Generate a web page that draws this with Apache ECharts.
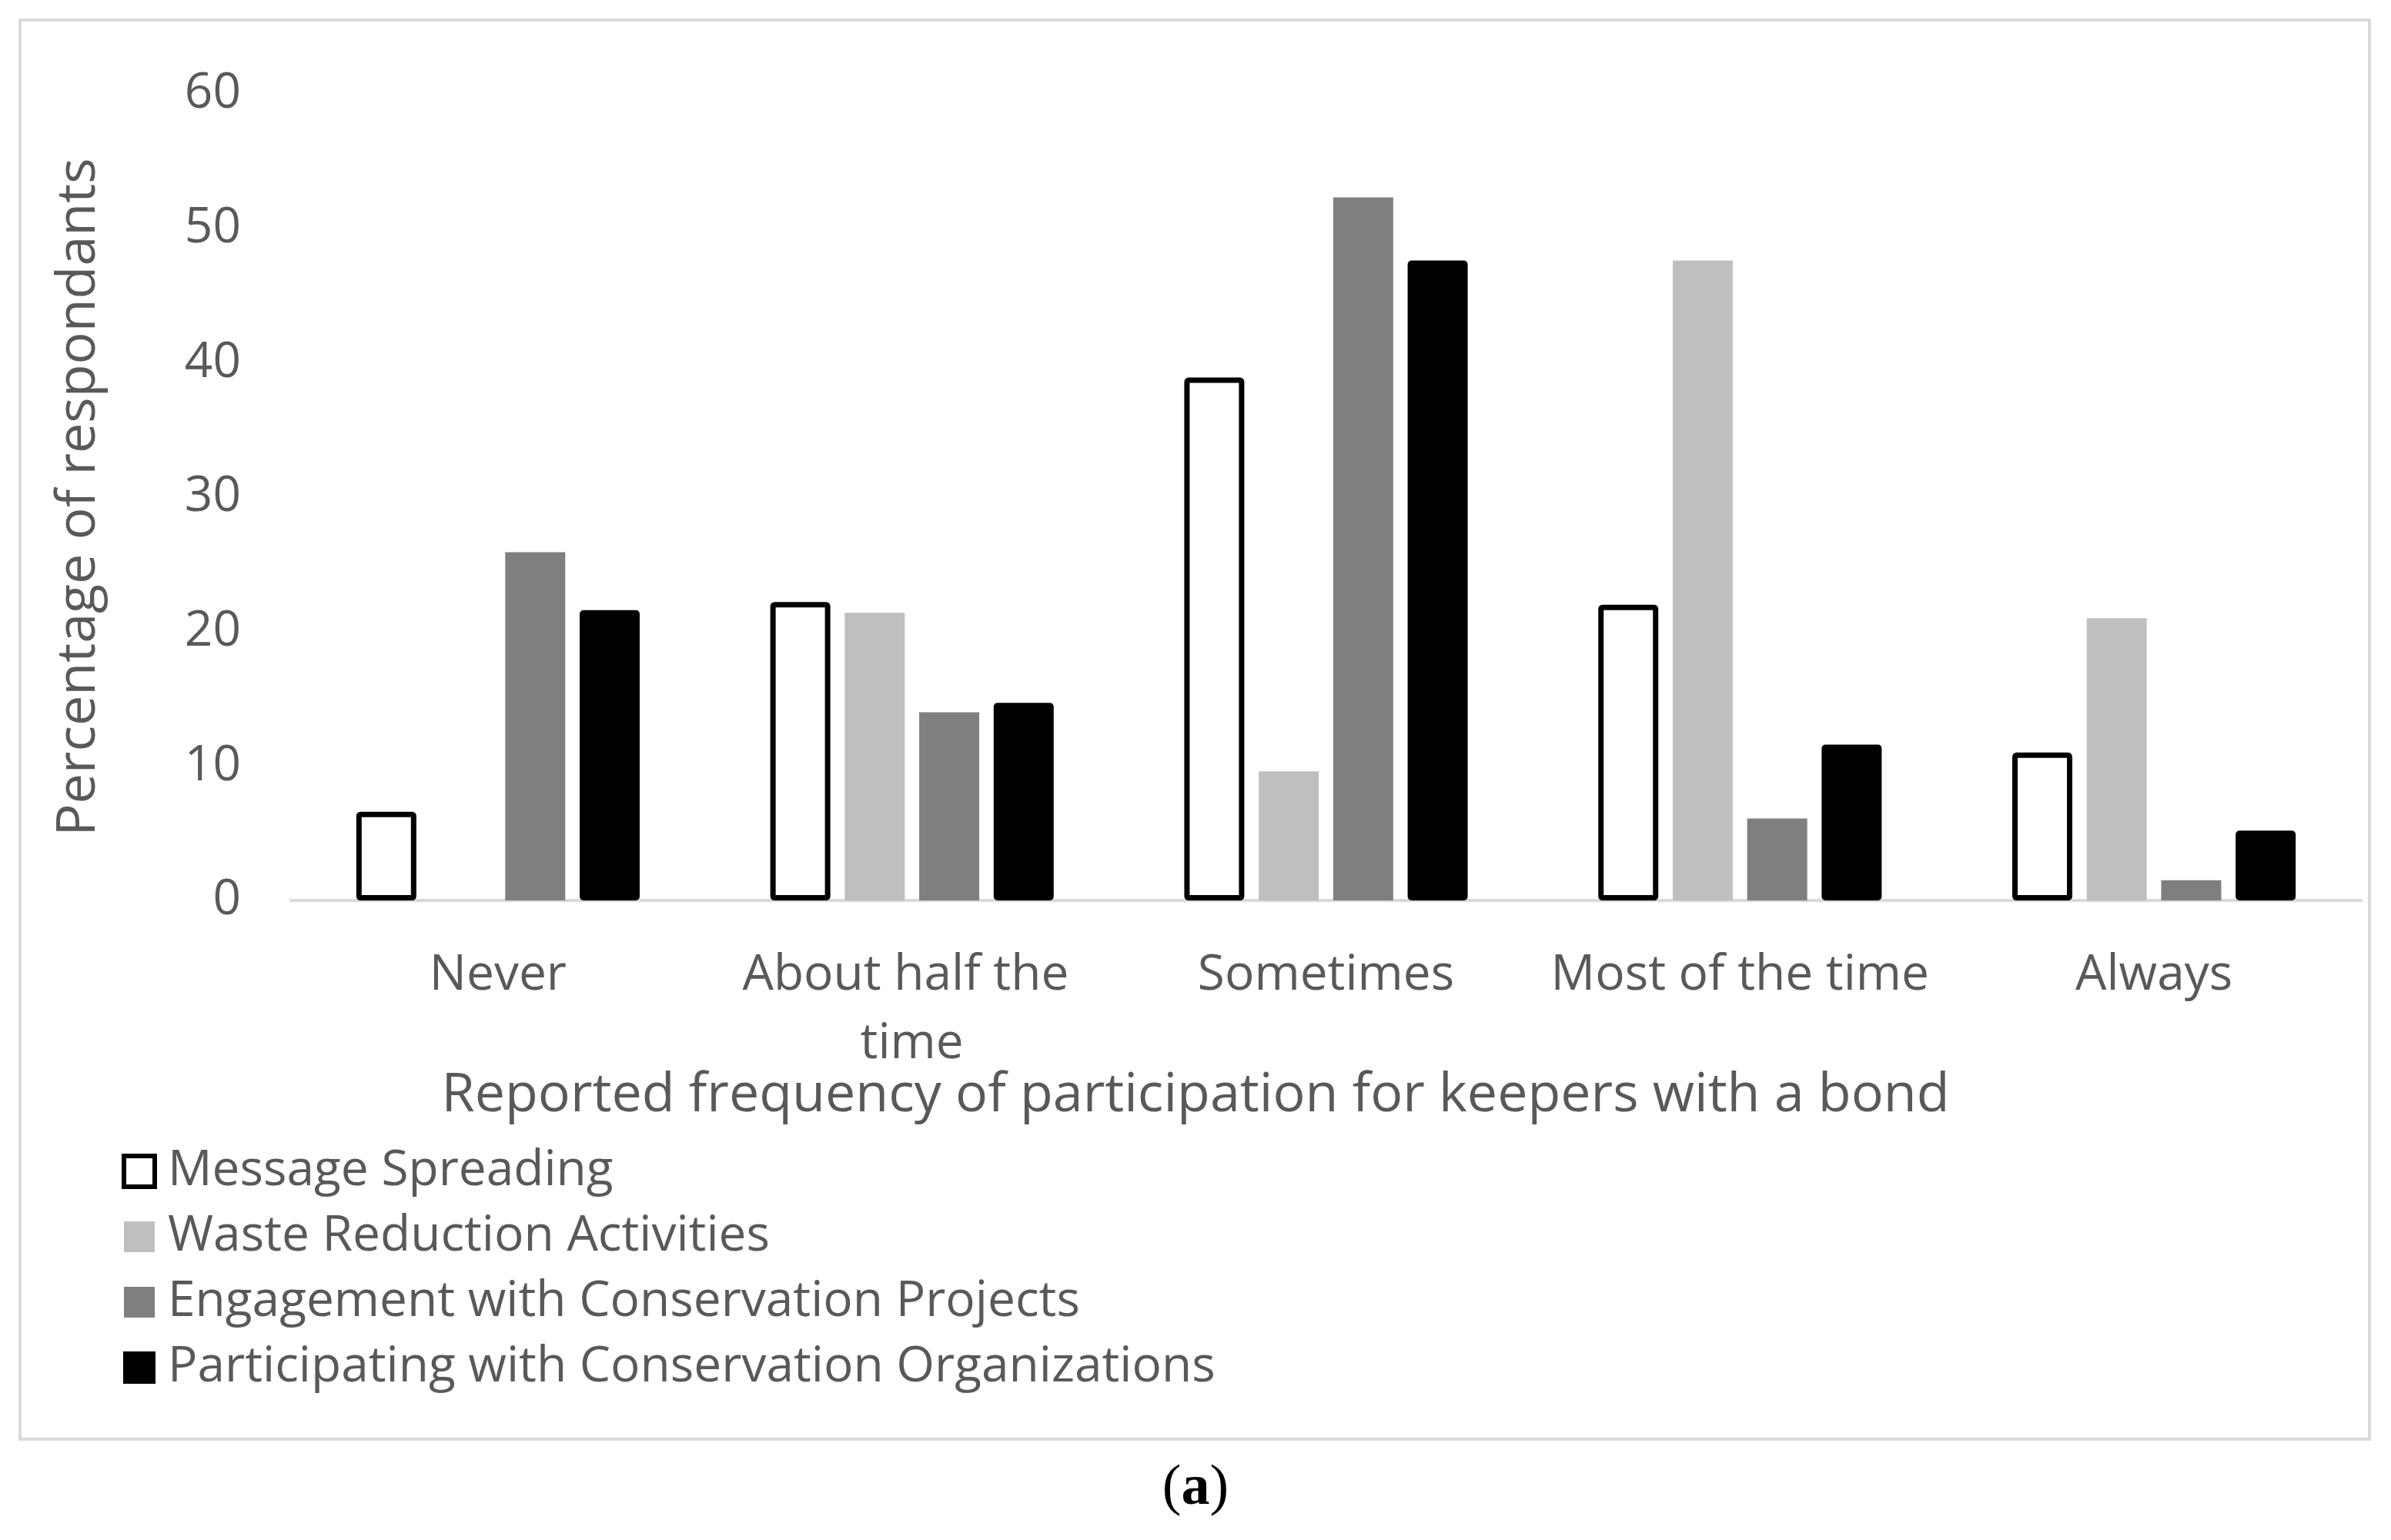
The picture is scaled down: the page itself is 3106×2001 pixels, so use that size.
<!DOCTYPE html>
<html>
<head>
<meta charset="utf-8">
<script src="https://cdn.jsdelivr.net/npm/echarts@6/dist/echarts.min.js"></script>
<style>
html,body{margin:0;padding:0;background:#fff;}
#chart{width:3106px;height:2001px;}
</style>
</head>
<body>
<div id="chart"></div>
<script>
const categories = ['Never', 'About half the time', 'Sometimes', 'Most of the time', 'Always'];
const seriesNames = ['Message Spreading', 'Waste Reduction Activities', 'Engagement with Conservation Projects', 'Participating with Conservation Organizations'];
const messageSpreading = [6.6, 22.2, 38.9, 22.0, 11.0];
const wasteReduction = [0, 21.4, 9.6, 47.6, 21.0];
const engagementProjects = [25.9, 14.0, 52.3, 6.1, 1.5];
const participatingOrgs = [21.6, 14.7, 47.6, 11.6, 5.2];
const yTicks = {min: 0, max: 60, interval: 10};

const FONT = '"Open Sans", "Noto Sans", sans-serif';
const TXT = '#595959';

const chart = echarts.init(document.getElementById('chart'), null, {renderer: 'canvas'});
const barW = 78;
const gap = '24%';
const option = {
  backgroundColor: '#ffffff',
  animation: false,
  textStyle: {fontFamily: FONT},
  title: [{
    text: 'Reported frequency of participation for keepers with a bond',
    left: 'center',
    top: 1377,
    textStyle: {fontFamily: FONT, fontSize: 70, fontWeight: 'normal', color: TXT, lineHeight: 84}
  }, {
    text: '{p|(}{a|a}{p|)}',
    left: 'center',
    top: 1893,
    textStyle: {
      rich: {
        p: {fontFamily: '"Liberation Serif", "DejaVu Serif", serif', fontSize: 74, color: '#000', fontWeight: 'normal'},
        a: {fontFamily: '"Liberation Serif", "DejaVu Serif", serif', fontSize: 74, color: '#000', fontWeight: 'bold'}
      }
    }
  }],
  legend: {
    orient: 'vertical',
    left: 153,
    top: 1485,
    itemWidth: 40,
    itemHeight: 40,
    itemGap: 21,
    icon: 'rect',
    data: [
      {name: seriesNames[0], itemStyle: {color: '#ffffff', borderColor: '#000000', borderWidth: 6}},
      {name: seriesNames[1]},
      {name: seriesNames[2]},
      {name: seriesNames[3]}
    ],
    textStyle: {fontFamily: FONT, fontSize: 64, color: TXT, lineHeight: 64, padding: [0, 0, 0, 12]}
  },
  grid: {left: 378, right: 39, top: 122, bottom: 831, containLabel: false},
  xAxis: {
    type: 'category',
    data: categories,
    axisLine: {show: true, lineStyle: {color: '#d9d9d9', width: 4}},
    axisTick: {show: false},
    axisLabel: {
      interval: 0,
      margin: 53,
      fontFamily: FONT,
      fontSize: 64,
      color: TXT,
      lineHeight: 89,
      width: 520,
      overflow: 'break'
    }
  },
  yAxis: {
    type: 'value',
    min: yTicks.min,
    max: yTicks.max,
    interval: yTicks.interval,
    name: 'Percentage of respondants',
    nameLocation: 'middle',
    nameGap: 240,
    nameTextStyle: {fontFamily: FONT, fontSize: 70, color: TXT},
    axisLine: {show: false},
    axisTick: {show: false},
    splitLine: {show: false},
    axisLabel: {margin: 65, fontFamily: FONT, fontSize: 64, color: TXT}
  },
  series: [
    {name: seriesNames[0], type: 'bar', data: messageSpreading, barWidth: barW, barGap: gap,
     itemStyle: {color: '#ffffff', borderColor: '#000000', borderWidth: 7, borderRadius: 2}},
    {name: seriesNames[1], type: 'bar', data: wasteReduction, barWidth: barW, barGap: gap,
     itemStyle: {color: '#bfbfbf'}},
    {name: seriesNames[2], type: 'bar', data: engagementProjects, barWidth: barW, barGap: gap,
     itemStyle: {color: '#7f7f7f'}},
    {name: seriesNames[3], type: 'bar', data: participatingOrgs, barWidth: barW, barGap: gap,
     itemStyle: {color: '#000000', borderColor: '#000000', borderWidth: 4, borderRadius: 3}}
  ],
  graphic: [{
    type: 'rect',
    shape: {x: 26, y: 26, width: 3052, height: 1844},
    style: {fill: 'none', stroke: '#d9d9d9', lineWidth: 4},
    silent: true,
    z: -1
  }]
};
chart.setOption(option);
</script>
</body>
</html>
